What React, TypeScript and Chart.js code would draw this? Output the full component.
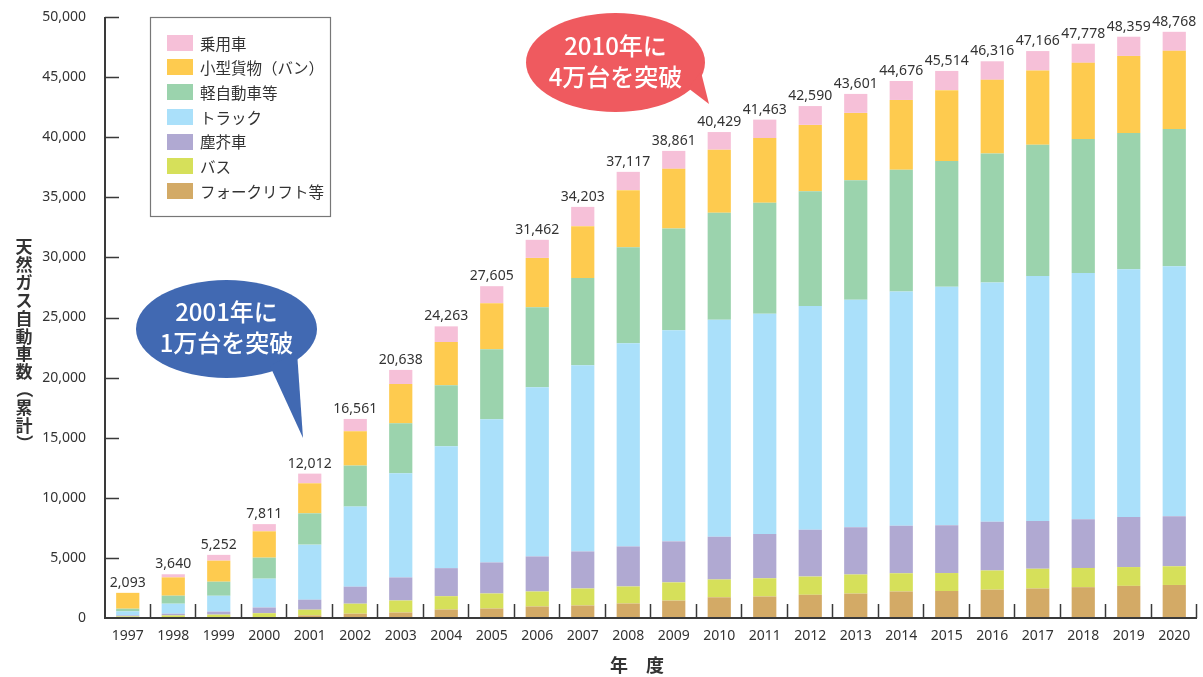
import React, { useEffect, useRef } from 'react';
import { Chart, registerables } from 'chart.js';

Chart.register(...registerables);

const years = ['1997','1998','1999','2000','2001','2002','2003','2004','2005','2006','2007','2008','2009','2010','2011','2012','2013','2014','2015','2016','2017','2018','2019','2020'];

const forklift = [83, 80, 60, 60, 216, 358, 458, 708, 791, 958, 1041, 1207, 1449, 1724, 1790, 1932, 2032, 2206, 2248, 2356, 2456, 2565, 2673, 2748];
const bus = [50, 136, 220, 340, 475, 833, 1000, 1107, 1249, 1248, 1415, 1416, 1515, 1482, 1516, 1515, 1590, 1516, 1491, 1599, 1641, 1598, 1565, 1557];
const garbage = [83, 142, 250, 474, 833, 1415, 1915, 2332, 2581, 2915, 3081, 3330, 3414, 3547, 3688, 3897, 3930, 3963, 3980, 4047, 3980, 4055, 4155, 4163];
const truck = [334, 832, 1320, 2398, 4579, 6661, 8660, 10133, 11907, 14071, 15487, 16903, 17552, 18068, 18310, 18618, 18926, 19484, 19841, 19916, 20374, 20483, 20624, 20799];
const kei = [224, 667, 1170, 1749, 2606, 3414, 4163, 5079, 5828, 6661, 7269, 7993, 8476, 8901, 9242, 9550, 9933, 10133, 10450, 10733, 10916, 11158, 11341, 11407];
const van = [1319, 1523, 1750, 2190, 2498, 2856, 3272, 3605, 3830, 4105, 4305, 4746, 4963, 5237, 5379, 5512, 5612, 5796, 5903, 6120, 6179, 6328, 6403, 6512];
const passenger = [0, 260, 482, 600, 805, 1024, 1171, 1299, 1419, 1504, 1605, 1522, 1492, 1470, 1538, 1566, 1578, 1578, 1601, 1545, 1620, 1591, 1598, 1582];

const totals = [2093, 3640, 5252, 7811, 12012, 16561, 20638, 24263, 27605, 31462, 34203, 37117, 38861, 40429, 41463, 42590, 43601, 44676, 45514, 46316, 47166, 47778, 48359, 48768];

// bottom -> top stacking order
const seriesLabels = ['フォークリフト等', 'バス', '塵芥車', 'トラック', '軽自動車等', '小型貨物（バン）', '乗用車'];
const seriesData = [forklift, bus, garbage, truck, kei, van, passenger];
const seriesColors = ['#D3AA66', '#D6E05A', '#B0A9D2', '#AAE0FA', '#9BD3AD', '#FECB4F', '#F6C0D8'];

const yMax = 50000;
const yStep = 5000;

const yTitle = '天然ガス自動車数（累計）';
const xTitle = '年　度';
const callout2001 = ['2001年に', '1万台を突破'];
const callout2010 = ['2010年に', '4万台を突破'];

const NUM_FONT = '"Noto Sans", sans-serif';
const NUM_SIZE = 14;
const JP_FONT = '"Noto Sans CJK JP", "Noto Sans", sans-serif';
const AXIS_COLOR = '#3a3a3a';
const TEXT_COLOR = '#333333';

const fmt = (v: number) => Number(v).toLocaleString('en-US');

const decor = {
  id: 'decor',
  afterDatasetsDraw(chart: any) {
    const ctx = chart.ctx as CanvasRenderingContext2D;
    const xs = chart.scales.x;
    const ys = chart.scales.y;
    const area = chart.chartArea;
    ctx.save();

    // total labels above bars
    ctx.fillStyle = TEXT_COLOR;
    ctx.font = `${NUM_SIZE}px ${NUM_FONT}`;
    ctx.textAlign = 'center';
    ctx.textBaseline = 'alphabetic';
    totals.forEach((t, i) => {
      const x = xs.getPixelForValue(i);
      const y = ys.getPixelForValue(t);
      ctx.fillText(fmt(t), x, y - 6);
    });

    // axes
    ctx.strokeStyle = AXIS_COLOR;
    ctx.lineWidth = 2;
    ctx.beginPath();
    ctx.moveTo(area.left, ys.getPixelForValue(yMax));
    ctx.lineTo(area.left, area.bottom);
    ctx.lineTo(area.right, area.bottom);
    ctx.stroke();

    ctx.lineWidth = 1.5;
    ctx.beginPath();
    for (let v = yStep; v <= yMax; v += yStep) {
      const y = Math.round(ys.getPixelForValue(v)) + 0.5;
      ctx.moveTo(area.left, y);
      ctx.lineTo(area.left + 14, y);
    }
    const n = years.length;
    const w = (area.right - area.left) / n;
    for (let k = 1; k <= n; k++) {
      const x = Math.round(area.left + k * w) - 0.5;
      ctx.moveTo(x, area.bottom);
      ctx.lineTo(x, area.bottom - 14);
    }
    ctx.stroke();

    // legend box
    const lx = 150.5, ly = 17.5, lw = 180, lh = 199;
    ctx.fillStyle = '#ffffff';
    ctx.fillRect(lx, ly, lw, lh);
    ctx.strokeStyle = '#777777';
    ctx.lineWidth = 1.2;
    ctx.strokeRect(lx, ly, lw, lh);
    ctx.font = `15.5px ${JP_FONT}`;
    ctx.textAlign = 'left';
    ctx.textBaseline = 'middle';
    for (let j = 0; j < seriesLabels.length; j++) {
      const idx = seriesLabels.length - 1 - j;
      const cy = 42.7 + j * 24.7;
      ctx.fillStyle = seriesColors[idx];
      ctx.fillRect(167, Math.round(cy - 8), 26, 16);
      ctx.fillStyle = TEXT_COLOR;
      ctx.fillText(seriesLabels[idx], 200, cy + 1);
    }

    // callouts
    const drawCallout = (color: string, cx: number, cy: number, rx: number, ry: number, tail: number[][], lines: string[], ty: number[]) => {
      ctx.fillStyle = color;
      ctx.beginPath();
      ctx.ellipse(cx, cy, rx, ry, 0, 0, Math.PI * 2);
      ctx.fill();
      ctx.beginPath();
      ctx.moveTo(tail[0][0], tail[0][1]);
      ctx.lineTo(tail[1][0], tail[1][1]);
      ctx.lineTo(tail[2][0], tail[2][1]);
      ctx.closePath();
      ctx.fill();
      ctx.fillStyle = '#ffffff';
      ctx.font = `500 24px ${JP_FONT}`;
      ctx.textAlign = 'center';
      ctx.textBaseline = 'middle';
      lines.forEach((s, i) => ctx.fillText(s, cx, ty[i]));
    };
    drawCallout('#4169B2', 226.5, 329, 90.5, 49, [[270, 366], [303, 438], [297, 352]], callout2001, [312, 343]);
    drawCallout('#EF5A5F', 615.5, 62.5, 89.5, 49.5, [[688, 88], [709, 104], [701, 72]], callout2010, [46, 77]);

    // y title (vertical, upright)
    ctx.fillStyle = TEXT_COLOR;
    ctx.font = `bold 17px ${JP_FONT}`;
    ctx.textAlign = 'center';
    ctx.textBaseline = 'middle';
    const chars = Array.from(yTitle);
    const step = (452 - 238) / chars.length;
    chars.forEach((ch, i) => {
      const y = 238 + step * (i + 0.5);
      if (ch === '（' || ch === '）') {
        ctx.save();
        ctx.translate(24, y);
        ctx.rotate(Math.PI / 2);
        ctx.fillText(ch, 0, 0);
        ctx.restore();
      } else {
        ctx.fillText(ch, 24, y);
      }
    });

    // x title
    ctx.font = `bold 18px ${JP_FONT}`;
    ctx.fillText(xTitle, 637, 665);

    ctx.restore();
  },
};

export default function App() {
  const ref = useRef<HTMLCanvasElement | null>(null);
  useEffect(() => {
    if (!ref.current) return;
    const chart = new Chart(ref.current, {
      type: 'bar',
      data: {
        labels: years,
        datasets: seriesData.map((d, i) => ({
          label: seriesLabels[i],
          data: d,
          backgroundColor: seriesColors[i],
          borderWidth: 0,
          barPercentage: 0.51,
          categoryPercentage: 1,
        })),
      },
      options: {
        responsive: false,
        maintainAspectRatio: false,
        animation: false,
        layout: { padding: { left: 0, right: 6, top: 17, bottom: 0 } },
        plugins: { legend: { display: false }, tooltip: { enabled: false } },
        scales: {
          x: {
            stacked: true,
            grid: { display: false, drawTicks: false },
            border: { display: false },
            ticks: { padding: 10, color: TEXT_COLOR, font: { family: NUM_FONT, size: NUM_SIZE }, maxRotation: 0, autoSkip: false },
            afterFit: (s: any) => { s.height = 59; s.paddingLeft = 0; s.paddingRight = 0; },
          },
          y: {
            stacked: true,
            min: 0,
            max: yMax,
            grid: { display: false, drawTicks: false },
            border: { display: false },
            ticks: { stepSize: yStep, padding: 19, color: TEXT_COLOR, font: { family: NUM_FONT, size: NUM_SIZE }, callback: (v: any) => fmt(Number(v)) },
            afterFit: (s: any) => { s.width = 105; s.paddingTop = 0; s.paddingBottom = 0; },
          },
        },
      },
      plugins: [decor],
    });
    return () => chart.destroy();
  }, []);
  return (
    <div style={{ position: 'absolute', left: 0, top: 0, width: 1203, height: 677, background: '#fff' }}>
      <canvas ref={ref} width={1203} height={677} />
    </div>
  );
}
